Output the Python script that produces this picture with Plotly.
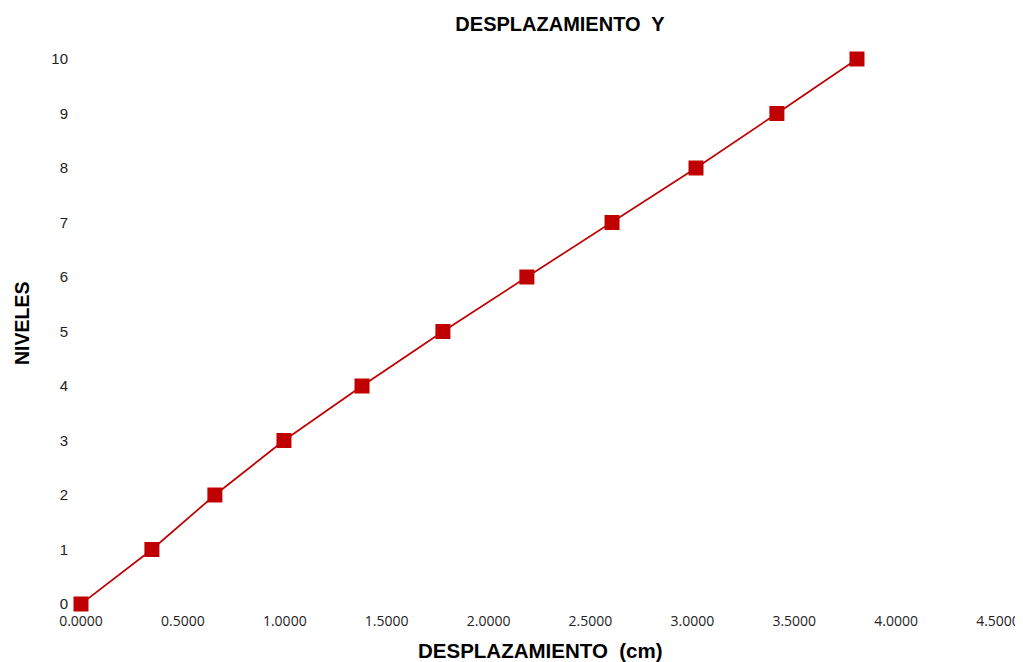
import plotly.graph_objects as go

niveles = [0, 1, 2, 3, 4, 5, 6, 7, 8, 9, 10]
desplazamiento = [0.0, 0.348, 0.657, 0.996, 1.379, 1.776, 2.188, 2.606, 3.018, 3.415, 3.808]
x_ticks = [0, 0.5, 1.0, 1.5, 2.0, 2.5, 3.0, 3.5, 4.0, 4.5]
x_tick_text = [f"{v:.4f}" for v in x_ticks]
y_ticks = list(range(0, 11))

fig = go.Figure()
fig.add_trace(go.Scatter(
    x=desplazamiento, y=niveles, mode="lines+markers",
    line=dict(color="#C00000", width=1.7),
    marker=dict(symbol="square", size=15, color="#C00000"),
    cliponaxis=False, showlegend=False,
))

title_font = dict(family="Liberation Sans, Arial", color="black")
OFF = 8  # page body margin offset

fig.update_layout(
    width=1023, height=662,
    paper_bgcolor="white", plot_bgcolor="white",
    margin=dict(l=81 - OFF, r=1023 - (81 - OFF) - 917, t=59 - OFF, b=662 - (59 - OFF) - 545),
    title=dict(text="<b>DESPLAZAMIENTO  Y</b>", x=(560 - OFF)/1023, xanchor="center",
               y=1-(24 - OFF)/662, yanchor="middle", xref="container",
               font=dict(size=20, **title_font)),
    xaxis=dict(range=[0, 4.5], tickvals=x_ticks, ticktext=x_tick_text,
               showgrid=False, zeroline=False, showline=False, automargin=False,
               tickfont=dict(family="Open Sans", size=14, color="#222"),
               ticklabelstandoff=7),
    yaxis=dict(range=[0, 10], tickvals=y_ticks,
               showgrid=False, zeroline=False, showline=False, automargin=False,
               tickfont=dict(family="Liberation Sans, Arial", size=15, color="#222"),
               ticklabelstandoff=12),
    annotations=[
        dict(text="<b>DESPLAZAMIENTO  (cm)</b>", xref="paper", yref="paper",
             x=(540-81)/917, y=-(650-604)/545, xanchor="center", yanchor="middle",
             showarrow=False, font=dict(size=20.5, **title_font)),
        dict(text="<b>NIVELES</b>", xref="paper", yref="paper",
             x=-(81-22)/917, y=(604-323)/545, xanchor="center", yanchor="middle",
             textangle=-90, showarrow=False, font=dict(size=19.5, **title_font)),
    ],
)

fig.write_html("out.html")
